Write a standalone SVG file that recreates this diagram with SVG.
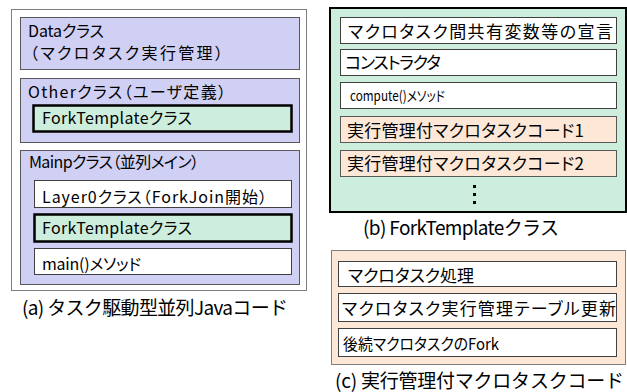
<svg xmlns="http://www.w3.org/2000/svg" width="627" height="392" viewBox="0 0 627 392">
<style>
text{font-family:"Noto Sans CJK JP","Noto Sans",sans-serif;font-feature-settings:"palt";fill:#000}
.t16{font-size:16px}
.t17{font-size:17px}
.t14{font-size:14px}
.cap{font-size:19px;font-feature-settings:normal}
.outerA{fill:#ffffff;stroke:#7f7f7f;stroke-width:1}
.lav{fill:#d0d0f4;stroke:#595959;stroke-width:1}
.mint{fill:#cdeedd;stroke:#000;stroke-width:2.5}
.white{fill:#ffffff;stroke:#404040;stroke-width:1}
.peach{fill:#fde8d8;stroke:#595959;stroke-width:1}
.outerB{fill:#cdeedd;stroke:#000;stroke-width:2}
.outerC{fill:#fde8d8;stroke:#7f7f7f;stroke-width:1}
</style>

<!-- (a) -->
<g id="panel-a">
  <rect class="outerA" x="11.5" y="9.5" width="295" height="281"/>
  <g id="data-class">
    <rect class="lav" x="20.5" y="17.5" width="279" height="52"/>
    <text class="t16" x="28" y="37" textLength="76">Dataクラス</text>
    <text class="t16" x="30" y="59" textLength="193">（マクロタスク実行管理）</text>
  </g>
  <g id="other-class">
    <rect class="lav" x="20.5" y="78.5" width="279" height="64"/>
    <text class="t16" x="28" y="98" textLength="198">Otherクラス（ユーザ定義）</text>
    <g id="other-forktemplate">
      <rect class="mint" x="33.5" y="105.5" width="258" height="26"/>
      <text class="t16" x="42" y="124" textLength="150">ForkTemplateクラス</text>
    </g>
  </g>
  <g id="mainp-class">
    <rect class="lav" x="20.5" y="150.5" width="279" height="134"/>
    <text class="t16" x="29" y="168" textLength="170">Mainpクラス（並列メイン）</text>
    <g id="layer0-class">
      <rect class="white" x="34.5" y="180.5" width="257" height="27"/>
      <text class="t16" x="42" y="203" textLength="225">Layer0クラス（ForkJoin開始）</text>
    </g>
    <g id="mainp-forktemplate">
      <rect class="mint" x="34.5" y="214.5" width="257" height="27"/>
      <text class="t16" x="42" y="234" textLength="150">ForkTemplateクラス</text>
    </g>
    <g id="main-method">
      <rect class="white" x="34.5" y="248.5" width="257" height="26"/>
      <text class="t16" x="42" y="270" textLength="99">main()メソッド</text>
    </g>
  </g>
  <text id="caption-a" class="cap" x="22" y="315" textLength="266">(a) タスク駆動型並列Javaコード</text>
</g>

<!-- (b) -->
<g id="panel-b">
  <rect class="outerB" x="330" y="8" width="296" height="204"/>
  <g id="decl">
    <rect class="white" x="340.5" y="17.5" width="276" height="26"/>
    <text class="t17" x="348" y="38" textLength="265">マクロタスク間共有変数等の宣言</text>
  </g>
  <g id="constructor">
    <rect class="white" x="340.5" y="49.5" width="276" height="26"/>
    <text class="t17" x="345" y="69" textLength="96">コンストラクタ</text>
  </g>
  <g id="compute">
    <rect class="white" x="340.5" y="82.5" width="276" height="26"/>
    <text class="t14" x="350" y="101" textLength="95" lengthAdjust="spacingAndGlyphs">compute()メソッド</text>
  </g>
  <g id="code1">
    <rect class="peach" x="340.5" y="116.5" width="276" height="26"/>
    <text class="t17" x="347" y="137" textLength="237">実行管理付マクロタスクコード1</text>
  </g>
  <g id="code2">
    <rect class="peach" x="340.5" y="150.5" width="276" height="26"/>
    <text class="t17" x="347" y="170" textLength="237">実行管理付マクロタスクコード2</text>
  </g>
  <g id="ellipsis" fill="#000">
    <rect x="473" y="185" width="3" height="3"/>
    <rect x="473" y="193" width="3" height="3"/>
    <rect x="473" y="201" width="3" height="3"/>
  </g>
  <text id="caption-b" class="cap" x="363" y="235" textLength="196">(b) ForkTemplateクラス</text>
</g>

<!-- (c) -->
<g id="panel-c">
  <rect class="outerC" x="331.5" y="250.5" width="294" height="114"/>
  <g id="mt-process">
    <rect class="white" x="338.5" y="261.5" width="278" height="25"/>
    <text class="t17" x="348" y="282" textLength="126">マクロタスク処理</text>
  </g>
  <g id="table-update">
    <rect class="white" x="338.5" y="293.5" width="278" height="28"/>
    <text class="t17" x="342" y="315" textLength="274">マクロタスク実行管理テーブル更新</text>
  </g>
  <g id="fork-next">
    <rect class="white" x="338.5" y="328.5" width="278" height="28"/>
    <text class="t16" x="343" y="350" textLength="156" lengthAdjust="spacingAndGlyphs">後続マクロタスクのFork</text>
  </g>
  <text id="caption-c" class="cap" x="335" y="388" textLength="289">(c) 実行管理付マクロタスクコード</text>
</g>
</svg>
